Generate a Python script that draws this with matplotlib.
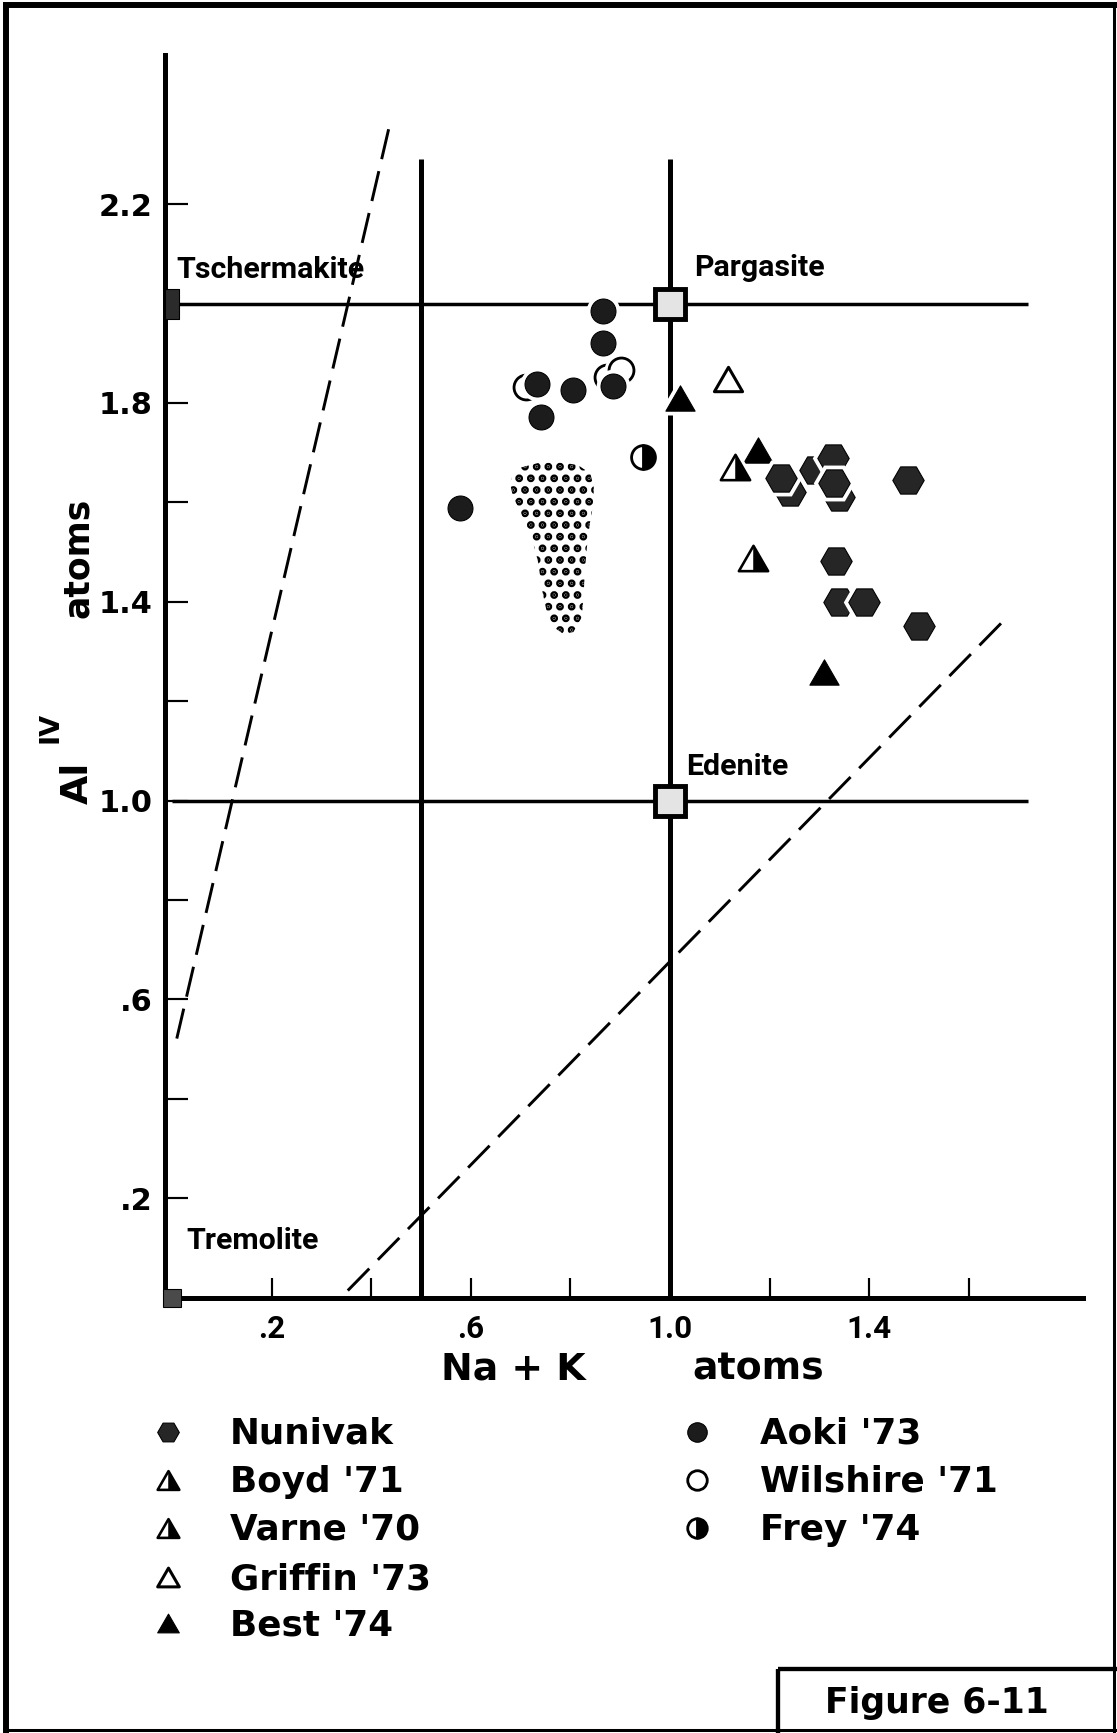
import numpy as np
import matplotlib
matplotlib.use("Agg")
import matplotlib.pyplot as plt
from matplotlib.path import Path
from matplotlib.patches import Polygon, Rectangle

# values: x = Na+K atoms, y = Al(IV) atoms
nunivak_x = [1.241, 1.222, 1.291, 1.327, 1.339, 1.329, 1.477, 1.333, 1.340, 1.390, 1.499]
nunivak_y = [1.621, 1.649, 1.665, 1.689, 1.611, 1.639, 1.645, 1.482, 1.399, 1.400, 1.351]
boyd_x, boyd_y = [1.131], [1.672]
varne_x, varne_y = [1.166], [1.487]
griffin_x, griffin_y = [1.116], [1.849]
best_x = [1.021, 1.177, 1.310]
best_y = [1.809, 1.705, 1.259]
wilshire_x = [0.711, 0.873, 0.901]
wilshire_y = [1.831, 1.853, 1.866]
aoki_x = [0.865, 0.865, 0.732, 0.806, 0.886, 0.741, 0.578]
aoki_y = [1.984, 1.920, 1.839, 1.825, 1.834, 1.772, 1.588]
frey_x, frey_y = [0.945], [1.691]

end_names = ["Tschermakite", "Pargasite", "Edenite", "Tremolite"]
end_x = [0.0, 1.0, 1.0, 0.0]
end_y = [2.0, 2.0, 1.0, 0.0]
label_x = [0.008, 1.048, 1.033, 0.028]
label_y = [2.051, 2.055, 1.051, 0.098]

# stippled field
blob_x = [0.776, 0.815, 0.840, 0.847, 0.846, 0.839, 0.833, 0.829, 0.827, 0.823, 0.806, 0.786,
          0.766, 0.752, 0.742, 0.736, 0.726, 0.712, 0.699, 0.685, 0.679, 0.684, 0.700, 0.735]
blob_y = [1.681, 1.675, 1.658, 1.630, 1.597, 1.557, 1.509, 1.463, 1.422, 1.369, 1.339, 1.335,
          1.349, 1.382, 1.429, 1.476, 1.516, 1.550, 1.583, 1.610, 1.637, 1.656, 1.670, 1.679]

dash1_x, dash1_y = [0.0096, 0.436], [0.521, 2.355]
dash2_x, dash2_y = [0.353, 1.674], [0.014, 1.366]

grid_x, grid_top = [0.5, 1.0], 2.29
grid_y, grid_right = [1.0, 2.0], 1.718

yticks = [0.2, 0.6, 1.0, 1.4, 1.8, 2.2]
yticklabels = [".2", ".6", "1.0", "1.4", "1.8", "2.2"]
yminor = [0.4, 0.8, 1.2, 1.6]
xticks = [0.2, 0.6, 1.0, 1.4]
xticklabels = [".2", ".6", "1.0", "1.4"]
xminor = [0.4, 0.8, 1.2, 1.6]

legend_left = ["Nunivak", "Boyd '71", "Varne '70", "Griffin '73", "Best '74"]
legend_right = ["Aoki '73", "Wilshire '71", "Frey '74"]

W, H, DPI = 1117, 1733, 70
S = 78 / DPI  # sizes below were tuned as points at 78 dpi
BOLD = dict(family="DejaVu Sans", weight="bold")
NARROW = dict(family=["Liberation Sans Narrow", "DejaVu Sans Condensed", "Roboto"],
              weight="bold")

plt.rcParams["hatch.linewidth"] = 5.5

CL = [Path.MOVETO, Path.LINETO, Path.LINETO, Path.CLOSEPOLY]
TRI = Path([(-1, -0.866), (1, -0.866), (0, 0.866), (-1, -0.866)], CL)
TRI_R = Path([(0, 0.866), (1, -0.866), (0, -0.866), (0, 0.866)], CL)
TALL = Path([(-0.45, -1), (0.45, -1), (0.45, 1), (-0.45, 1), (-0.45, -1)],
            [Path.MOVETO, Path.LINETO, Path.LINETO, Path.LINETO, Path.CLOSEPOLY])

STYLES = {
    "hex": [dict(marker="H", mfc="#262626", mec="black", mew=1 * S)],
    "half_tri": [dict(marker=TRI, mfc="white", mec="black", mew=2.4 * S),
                 dict(marker=TRI_R, mfc="black", mec="black", mew=0.5 * S)],
    "open_tri": [dict(marker=TRI, mfc="white", mec="black", mew=2.8 * S)],
    "tri": [dict(marker=TRI, mfc="black", mec="black", mew=1 * S)],
    "dot": [dict(marker="o", mfc="#1c1c1c", mec="black", mew=1 * S)],
    "ring": [dict(marker="o", mfc="white", mec="black", mew=2.6 * S)],
    "half_dot": [dict(marker="o", fillstyle="right", mfc="black", mfcalt="white",
                      mec="black", mew=2.6 * S)],
}


def draw(ax, x, y, kind, ms, z, halo=True):
    if halo:
        ax.plot([x], [y], ls="none", marker=STYLES[kind][0]["marker"], ms=ms * S,
                mfc="white", mec="white", mew=8 * S, zorder=z)
    for k, st in enumerate(STYLES[kind]):
        ax.plot([x], [y], ls="none", ms=ms * S, zorder=z + 0.01 * (k + 1), **st)


fig = plt.figure(figsize=(W / DPI, H / DPI), dpi=DPI)

px0, py0, sx, sy = 172, 1297.5, 498, 497
xlo, xhi, ylo, yhi = -0.015, 1.83, 0.0, 2.5
ax = fig.add_axes([(px0 + xlo * sx) / W, (H - py0 + ylo * sy) / H,
                   (xhi - xlo) * sx / W, (yhi - ylo) * sy / H])
ax.set_xlim(xlo, xhi)
ax.set_ylim(ylo, yhi)
ax.patch.set_alpha(0)
for side in ["top", "right"]:
    ax.spines[side].set_visible(False)
for side in ["left", "bottom"]:
    ax.spines[side].set_linewidth(4.6 * S)

ax.set_yticks(yticks)
ax.set_yticklabels(yticklabels, fontsize=28 * S, **BOLD)
ax.set_yticks(yminor, minor=True)
ax.set_xticks(xticks)
ax.set_xticklabels(xticklabels, fontsize=29 * S, **NARROW)
ax.set_xticks(xminor, minor=True)
ax.tick_params(axis="y", which="both", direction="in", length=21 * S, width=2 * S, pad=11 * S)
ax.tick_params(axis="x", which="both", direction="in", length=18.5 * S, width=2 * S, pad=15 * S)

# field boundaries
for gx in grid_x:
    ax.plot([gx, gx], [0, grid_top], color="black", lw=4.6 * S, solid_capstyle="butt", zorder=2)
for gy in grid_y:
    ax.plot([0, grid_right], [gy, gy], color="black", lw=3.2 * S, solid_capstyle="butt", zorder=2)
ax.plot(dash1_x, dash1_y, color="black", lw=2.7 * S, dashes=(10.5, 4.2), zorder=2)
ax.plot(dash2_x, dash2_y, color="black", lw=2.7 * S, dashes=(10.5, 4.2), zorder=2)

ax.add_patch(Polygon(np.column_stack([blob_x, blob_y]), closed=True, facecolor="none",
                     edgecolor="black", lw=0, hatch=".", zorder=2.5))

# end members
ax.plot(end_x[0], end_y[0], marker=TALL, ms=28 * S, mfc="#2b2b2b", mec="black", mew=1 * S,
        zorder=6, clip_on=False)
ax.plot(end_x[1:3], end_y[1:3], ls="none", marker="s", ms=27 * S, mfc="#e4e4e4",
        mec="black", mew=4.5 * S, zorder=6)
ax.plot(end_x[3], end_y[3], marker="s", ms=16 * S, mfc="#4a4a4a", mec="black", mew=1 * S,
        zorder=6, clip_on=False)
for name, lx, ly in zip(end_names, label_x, label_y):
    ax.text(lx, ly, name, fontsize=28 * S, va="baseline", ha="left", zorder=7, **NARROW)

z = 10
for x, y in zip(wilshire_x, wilshire_y):
    draw(ax, x, y, "ring", 23, z); z += 1
for x, y in zip(aoki_x, aoki_y):
    draw(ax, x, y, "dot", 23, z); z += 1
for x, y in zip(frey_x, frey_y):
    draw(ax, x, y, "half_dot", 22, z); z += 1
for x, y in zip(griffin_x, griffin_y):
    draw(ax, x, y, "open_tri", 26, z); z += 1
for x, y in zip(best_x, best_y):
    draw(ax, x, y, "tri", 27, z); z += 1
for x, y in zip(boyd_x + varne_x, boyd_y + varne_y):
    draw(ax, x, y, "half_tri", 27, z); z += 1
for x, y in zip(nunivak_x, nunivak_y):
    draw(ax, x, y, "hex", 29, z); z += 1

# page overlay in pixel units: labels, legend, frame
pg = fig.add_axes([0, 0, 1, 1], zorder=5)
pg.set_xlim(0, W)
pg.set_ylim(H, 0)
pg.set_axis_off()
pg.patch.set_alpha(0)

pg.text(88, 783, "Al", rotation=90, rotation_mode="anchor", ha="center", va="baseline",
        fontsize=35 * S, **BOLD)
pg.text(58, 727, "IV", rotation=90, rotation_mode="anchor", ha="center", va="baseline",
        fontsize=25 * S, **BOLD)
pg.text(88, 558, "atoms", rotation=90, rotation_mode="anchor", ha="center", va="baseline",
        fontsize=32 * S, **BOLD)
pg.text(513, 1380, "Na + K", ha="center", va="baseline", fontsize=35 * S, **BOLD)
pg.text(758, 1380, "atoms", ha="center", va="baseline", fontsize=35 * S, **BOLD)

rows = [1432, 1480, 1528, 1577, 1623]
left_kinds = ["hex", "half_tri", "half_tri", "open_tri", "tri"]
right_kinds = ["dot", "ring", "half_dot"]
for name, kind, ry in zip(legend_left, left_kinds, rows):
    draw(pg, 168, ry, kind, 20, 10, halo=False)
    pg.text(230, ry + 12, name, va="baseline", ha="left", fontsize=33 * S, **BOLD)
for name, kind, ry in zip(legend_right, right_kinds, rows):
    draw(pg, 697, ry, kind, 18, 10, halo=False)
    pg.text(760, ry + 12, name, va="baseline", ha="left", fontsize=33 * S, **BOLD)

# page frame and figure number box
pg.plot([6, 6], [3, H], color="black", lw=5.5 * S, solid_capstyle="butt")
pg.plot([3, W], [5, 5], color="black", lw=5.5 * S, solid_capstyle="butt")
pg.plot([W - 3, W - 3], [3, H], color="black", lw=2.8 * S, solid_capstyle="butt")
pg.plot([3, W], [H - 3, H - 3], color="black", lw=2.8 * S, solid_capstyle="butt")
pg.add_patch(Rectangle((778, 1669), W, 100, facecolor="none", edgecolor="black", lw=4 * S))
pg.text(937, 1713, "Figure 6-11", ha="center", va="baseline", fontsize=32 * S, **BOLD)

fig.savefig("out.png", dpi=DPI)
